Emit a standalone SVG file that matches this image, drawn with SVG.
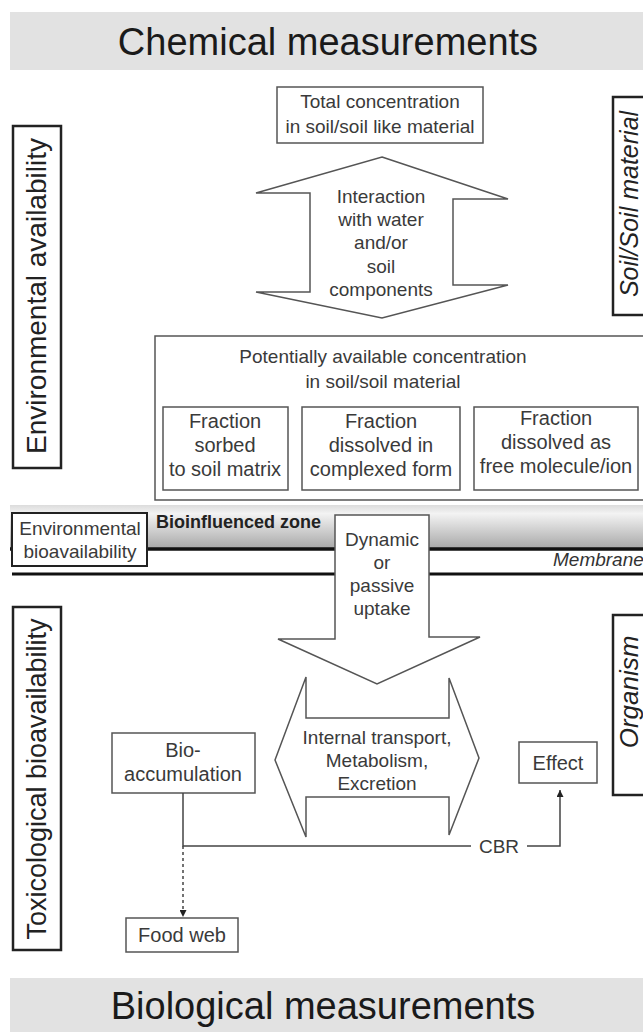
<svg xmlns="http://www.w3.org/2000/svg" width="643" height="1032" viewBox="0 0 643 1032">
<style>
text{font-family:"Liberation Sans",Arial,sans-serif;fill:#3a3a3a;text-anchor:middle}
.title{font-size:38px;fill:#1a1a1a}
.s{font-size:19px}
.m{font-size:20px}
.vert{font-size:28px;fill:#222}
.ital{font-style:italic}
.box{fill:#fff;stroke:#555;stroke-width:1.5}
.sidebox{fill:#fff;stroke:#222;stroke-width:2.5}
.shape{fill:#fff;stroke:#555;stroke-width:1.5;stroke-linejoin:miter}
.banner{fill:#e2e2e2}
.conn{fill:none;stroke:#444;stroke-width:1.5}
.thick{stroke:#111;stroke-width:3.5}
</style>
<defs>
<linearGradient id="band" x1="0" y1="0" x2="0" y2="1">
<stop offset="0" stop-color="#dcdcdc"/>
<stop offset="0.2" stop-color="#f3f3f3"/>
<stop offset="1" stop-color="#a9a9a9"/>
</linearGradient>
<marker id="arr" viewBox="0 0 10 10" refX="10" refY="5" markerWidth="7" markerHeight="7" orient="auto" markerUnits="userSpaceOnUse">
<path d="M0,0 L10,5 L0,10 z" fill="#222"/>
</marker>
</defs>

<g id="chemical-banner">
<rect class="banner" x="10" y="12" width="633" height="58"/>
<text class="title" x="328" y="55">Chemical measurements</text>
</g>

<g id="biological-banner">
<rect class="banner" x="10" y="978" width="633" height="54"/>
<text class="title" x="323" y="1019">Biological measurements</text>
</g>

<g id="env-availability">
<rect class="sidebox" x="13" y="126" width="48" height="342"/>
<text class="vert" transform="translate(46,296) rotate(-90)">Environmental availability</text>
</g>

<g id="tox-bioavailability">
<rect class="sidebox" x="13" y="607" width="48" height="343"/>
<text class="vert" style="font-size:27px" transform="translate(46,779) rotate(-90)">Toxicological bioavailability</text>
</g>

<g id="soil-material">
<rect class="sidebox" x="613" y="97" width="40" height="218"/>
<text class="vert ital" style="font-size:25px" transform="translate(638,204) rotate(-90)">Soil/Soil material</text>
</g>

<g id="organism">
<rect class="sidebox" x="613" y="615" width="40" height="180"/>
<text class="vert ital" style="font-size:26px" transform="translate(638,692) rotate(-90)">Organism</text>
</g>

<g id="total-concentration">
<rect class="box" x="277" y="87" width="206" height="56"/>
<text class="s" x="380" y="108">Total concentration</text>
<text class="s" x="380" y="133">in soil/soil like material</text>
</g>

<g id="interaction">
<polygon class="shape" points="382,157 508,199 453,199 453,285 508,285 382,318 256,292 310,292 310,193 256,193"/>
<text class="s" x="381" y="203">Interaction</text>
<text class="s" x="381" y="226">with water</text>
<text class="s" x="381" y="249">and/or</text>
<text class="s" x="381" y="273">soil</text>
<text class="s" x="381" y="296">components</text>
</g>

<g id="potentially-available">
<rect class="box" x="155" y="336" width="500" height="164"/>
<text class="s" x="383" y="363">Potentially available concentration</text>
<text class="s" x="383" y="388">in soil/soil material</text>
</g>

<g id="fraction-sorbed">
<rect class="box" x="163" y="407" width="125" height="83"/>
<text class="m" x="225" y="428">Fraction</text>
<text class="m" x="225" y="452">sorbed</text>
<text class="m" x="225" y="476">to soil matrix</text>
</g>

<g id="fraction-complexed">
<rect class="box" x="302" y="407" width="158" height="83"/>
<text class="m" x="381" y="428">Fraction</text>
<text class="m" x="381" y="452">dissolved in</text>
<text class="m" x="381" y="476">complexed form</text>
</g>

<g id="fraction-free">
<rect class="box" x="474" y="407" width="164" height="83"/>
<text class="m" x="556" y="425">Fraction</text>
<text class="m" x="556" y="449">dissolved as</text>
<text class="m" x="556" y="473">free molecule/ion</text>
</g>

<g id="bioinfluenced-zone">
<rect x="10" y="505" width="633" height="43" fill="url(#band)"/>
<line class="thick" x1="10" y1="549" x2="643" y2="549"/>
<line class="thick" x1="12" y1="574" x2="643" y2="574" style="stroke-width:3"/>
<text x="156" y="528" style="font-size:18px;font-weight:bold;text-anchor:start;fill:#222">Bioinfluenced zone</text>
<text x="553" y="566" class="ital" style="font-size:19px;text-anchor:start;fill:#333">Membrane</text>
</g>

<g id="env-bioavailability">
<rect class="box" x="12" y="513" width="135" height="53" style="stroke:#222;stroke-width:2"/>
<text class="s" x="80" y="535">Environmental</text>
<text class="s" x="80" y="558">bioavailability</text>
</g>

<g id="uptake">
<polygon class="shape" points="335,515 429,515 429,637 480,637 377,684 278,639 335,639"/>
<text class="s" x="382" y="546">Dynamic</text>
<text class="s" x="382" y="569">or</text>
<text class="s" x="382" y="592">passive</text>
<text class="s" x="382" y="615">uptake</text>
</g>

<g id="internal-transport">
<polygon class="shape" points="275,760 306,677 306,718 449,718 449,678 479,758 449,835 449,797 306,797 306,837"/>
<text class="s" x="377" y="744">Internal transport,</text>
<text class="s" x="377" y="767">Metabolism,</text>
<text class="s" x="377" y="790">Excretion</text>
</g>

<g id="bioaccumulation">
<rect class="box" x="112" y="733" width="143" height="60"/>
<text class="m" x="183" y="757">Bio-</text>
<text class="m" x="183" y="781">accumulation</text>
</g>

<g id="effect">
<rect class="box" x="519" y="742" width="78" height="41"/>
<text class="m" x="558" y="770">Effect</text>
</g>

<g id="food-web">
<rect class="box" x="126" y="918" width="112" height="34"/>
<text class="m" x="182" y="942">Food web</text>
</g>

<g id="connectors">
<polyline class="conn" points="183,793 183,846 471,846"/>
<polyline class="conn" points="527,846 560,846 560,790" marker-end="url(#arr)"/>
<line class="conn" x1="183" y1="846" x2="183" y2="917" stroke-dasharray="3,3" marker-end="url(#arr)"/>
<text class="s" x="499" y="853">CBR</text>
</g>
</svg>
